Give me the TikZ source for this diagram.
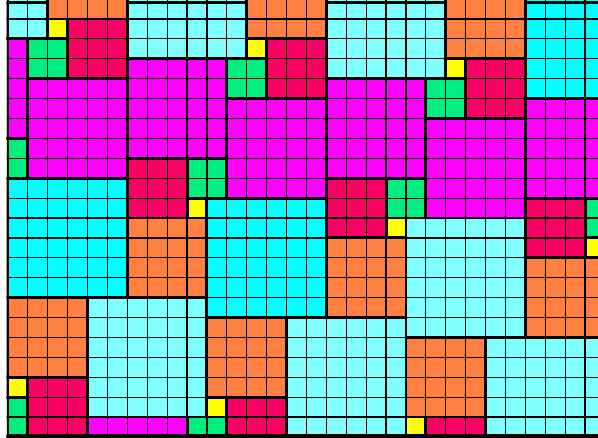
\documentclass[tikz,border=0pt]{standalone}
\definecolor{mg}{HTML}{FF00FF}
\definecolor{cy}{HTML}{00FFFF}
\definecolor{lc}{HTML}{80FFFF}
\definecolor{orng}{HTML}{FF8040}
\definecolor{cr}{HTML}{F80064}
\definecolor{gr}{HTML}{00EE80}
\definecolor{ye}{HTML}{FFFF00}
\tikzset{
  thinl/.style={line width=0.85pt, black, step=1},
  thickl/.style={line width=2.1pt, black, line cap=rect},
}
\def\tiles{-4/-4/6/lc, 2/-3/4/orng, 2/1/1/ye, 3/1/3/cr, 1/2/2/gr, -4/2/5/mg, 1/4/5/mg, -1/7/2/gr, 0/9/6/cy,
 6/-3/6/lc, 6/3/5/mg, 6/8/3/cr, 9/8/2/gr, 9/10/1/ye, 6/11/4/orng, 10/10/6/cy,
 12/-2/4/orng, 12/2/1/ye, 13/2/3/cr, 11/3/2/gr, 11/5/5/mg,
 16/-2/6/lc, 16/4/5/mg, 16/9/3/cr, 19/9/2/gr, 19/11/1/ye, 16/12/4/orng, 20/11/6/lc,
 22/-1/4/orng, 22/3/1/ye, 23/3/3/cr, 21/4/2/gr, 21/6/5/mg,
 26/-1/6/cy, 26/5/5/mg, 26/10/3/cr, 29/10/2/gr, 29/12/1/ye, 26/13/4/orng,
 0/15/4/orng, 0/19/1/ye, 1/19/3/cr, -1/20/2/gr, 4/15/6/lc, 4/21/5/mg, 9/21/2/gr,
 10/16/4/orng, 10/20/1/ye, 11/20/3/cr, 14/16/6/lc,
 20/17/4/orng, 20/21/1/ye, 21/21/3/cr, 24/17/6/lc}
\begin{document}
\begin{tikzpicture}[x=0.5cm,y=0.5cm]
\useasboundingbox[fill=white] (-0.40,-22.05) rectangle (29.65,-0.045);
\begin{scope}
\clip (-0.07,-22.05) rectangle (29.7,-0.045);
\foreach \cx/\ry/\sz/\kl in \tiles {
  \fill[\kl] (\cx,{-\ry-\sz}) rectangle ({\cx+\sz},-\ry);
  \draw[thinl] (\cx,{-\ry-\sz}) grid ({\cx+\sz},-\ry);
}
\foreach \cx/\ry/\sz/\kl in \tiles {
  \draw[thickl] (\cx,{-\ry-\sz}) rectangle ({\cx+\sz},-\ry);
}
% top edge lines over the cyan tiles
\draw[thickl] (0,-0.15) -- (2,-0.15);
\draw[thickl] (0,-0.15) -- (0,-2);
\draw[thickl] (6,-0.15) -- (12,-0.15);
\draw[thickl] (16,-0.15) -- (22,-0.15);
\draw[thickl] (26,-0.15) -- (29.7,-0.15);
% bottom edge
\draw[thickl] (0,-21.93) -- (29.7,-21.93);
\end{scope}
\end{tikzpicture}
\end{document}
